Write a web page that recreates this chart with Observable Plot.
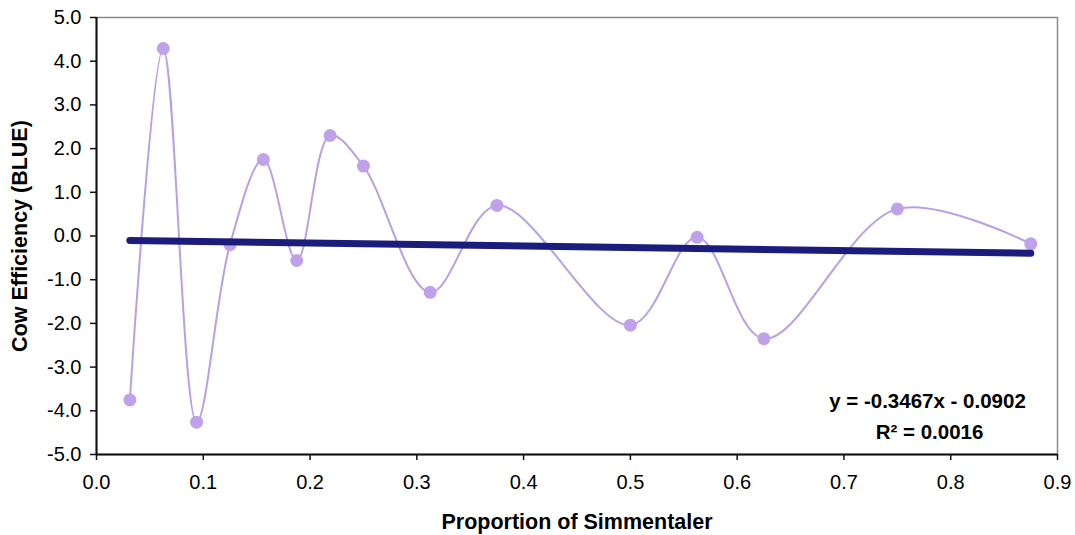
<!DOCTYPE html>
<html>
<head>
<meta charset="utf-8">
<script src="https://cdn.jsdelivr.net/npm/d3@7"></script>
<script src="https://cdn.jsdelivr.net/npm/@observablehq/plot@0.6"></script>
<style>
  body { margin: 0; background: #fff; }
  svg { font-family: "Liberation Sans", Arial, sans-serif; }
</style>
</head>
<body>
<div id="chart"></div>
<script>
// Proportion of Simmentaler genes (x) and cow efficiency BLUE (y)
const proportion = [0.03125, 0.0625, 0.09375, 0.125, 0.15625, 0.1875, 0.21875, 0.25,
                    0.3125, 0.375, 0.5, 0.5625, 0.625, 0.75, 0.875];
const efficiency = [-3.75, 4.29, -4.26, -0.2, 1.75, -0.56, 2.3, 1.6,
                    -1.29, 0.7, -2.04, -0.03, -2.35, 0.62, -0.18];

// Linear trend line reported on the chart
const slope = -0.3467;
const intercept = -0.0902;
const rSquared = 0.0016;

const xTicks = [0, 0.1, 0.2, 0.3, 0.4, 0.5, 0.6, 0.7, 0.8, 0.9];
const yTicks = [-5, -4, -3, -2, -1, 0, 1, 2, 3, 4, 5];

const points = proportion.map((p, i) => ({x: p, y: efficiency[i]}));
const xExtent = d3.extent(proportion);
const trend = xExtent.map(x => ({x, y: slope * x + intercept}));

const oneDecimal = d => d.toFixed(1);
const eqText = `y = ${slope.toFixed(4)}x - ${Math.abs(intercept).toFixed(4)}`;
const r2Text = `R² = ${rSquared.toFixed(4)}`;

const font = '"Liberation Sans", Arial, sans-serif';

const chart = Plot.plot({
  width: 1075,
  height: 535,
  marginLeft: 96,
  marginRight: 18,
  marginTop: 17,
  marginBottom: 81,
  style: {fontFamily: font, fontSize: "20px", color: "#000", background: "#fff"},
  x: {domain: [0, 0.9]},
  y: {domain: [-5, 5]},
  marks: [
    Plot.frame({stroke: "#8a8a8a", strokeWidth: 1.5}),
    Plot.axisX({ticks: xTicks, tickFormat: oneDecimal, tickSize: 6, tickPadding: 14,
                label: null, stroke: "#111", strokeWidth: 1.5}),
    Plot.axisY({ticks: yTicks, tickFormat: oneDecimal, tickSize: 6, tickPadding: 9,
                label: null, stroke: "#111", strokeWidth: 1.5}),
    Plot.ruleX([0], {stroke: "#111", strokeWidth: 2}),
    Plot.ruleY([-5], {stroke: "#111", strokeWidth: 2}),
    Plot.line(points, {x: "x", y: "y", curve: "catmull-rom", stroke: "#b9a0e6", strokeWidth: 2}),
    Plot.dot(points, {x: "x", y: "y", r: 6.5, fill: "#bfa2ea", stroke: "none"}),
    Plot.line(trend, {x: "x", y: "y", stroke: "#1c1c7c", strokeWidth: 7, strokeLinecap: "round"}),
    Plot.text([eqText], {frameAnchor: "bottom-right", textAnchor: "middle", lineAnchor: "middle",
                         dx: -130, dy: -53, fontSize: 20.5, fontWeight: "bold", fill: "#000"}),
    Plot.text([r2Text], {frameAnchor: "bottom-right", textAnchor: "middle", lineAnchor: "middle",
                         dx: -128, dy: -22, fontSize: 20.5, fontWeight: "bold", fill: "#000"}),
    Plot.text(["Proportion of Simmentaler"], {frameAnchor: "bottom", lineAnchor: "middle",
                         dy: 68, fontSize: 21.5, fontWeight: "bold", fill: "#000"}),
    Plot.text(["Cow Efficiency (BLUE)"], {frameAnchor: "left", textAnchor: "middle",
                         lineAnchor: "middle", rotate: -90,
                         dx: -76, fontSize: 21.5, fontWeight: "bold", fill: "#000"})
  ]
});

document.getElementById("chart").append(chart);
</script>
</body>
</html>
